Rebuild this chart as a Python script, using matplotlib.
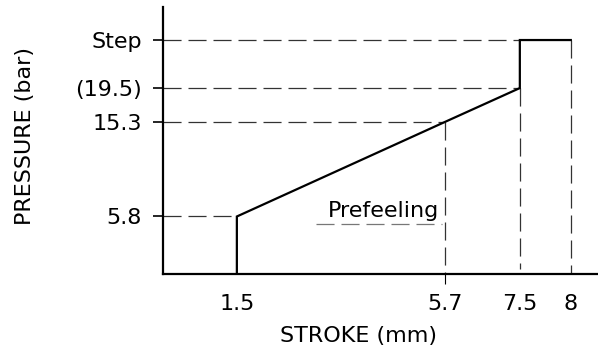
import matplotlib
matplotlib.use('Agg')
import matplotlib.pyplot as plt
import numpy as np

plt.rcParams['font.family'] = 'DejaVu Sans'
plt.rcParams['lines.scale_dashes'] = False

# stroke (mm) and pressure (bar) at the corners of the characteristic
stroke_start = 1.5
stroke_prefeel = 5.7
stroke_step = 7.5
stroke_end = 8.0
pressure_start = 5.8
pressure_prefeel = 15.3
pressure_knee = 19.5
pressure_step = 24.3

x_ticks = [stroke_start, stroke_prefeel, stroke_step, stroke_end]
x_labels = ['1.5', '5.7', '7.5', '8']
y_ticks = [pressure_start, pressure_prefeel, pressure_knee, pressure_step]
y_labels = ['5.8', '15.3', '(19.5)', 'Step']

# schematic axes: sections are drawn wider/narrower than to scale
x_in = [0, 5.7, 7.5, 8.0, 8.8]
x_out = [0, 5.7, 7.22, 8.25, 8.8]
y_in = [0, 15.3, 19.5, 27.6]
y_out = [0, 15.2, 18.6, 26.7]


def piecewise(src, dst):
    return (lambda v: np.interp(v, src, dst), lambda v: np.interp(v, dst, src))


fs = 16
fig = plt.figure(figsize=(5.98, 3.51), dpi=100)
ax = fig.add_axes([0.272, 0.219, 0.728, 0.761])
ax.set_xscale('function', functions=piecewise(x_in, x_out))
ax.set_yscale('function', functions=piecewise(y_in, y_out))

dash = (0, (13, 5))
dcol = '#333333'

# main curve
ax.plot([stroke_start, stroke_start, stroke_prefeel, stroke_step, stroke_step, stroke_end],
        [0, pressure_start, pressure_prefeel, pressure_knee, pressure_step, pressure_step],
        color='black', lw=1.6, solid_joinstyle='miter', zorder=3)

# guide lines
ax.plot([0, stroke_start], [pressure_start] * 2, color=dcol, lw=0.9, ls=dash)
ax.plot([0, stroke_prefeel], [pressure_prefeel] * 2, color=dcol, lw=0.9, ls=dash)
ax.plot([0, stroke_step], [pressure_knee] * 2, color=dcol, lw=0.9, ls=dash)
ax.plot([0, stroke_step], [pressure_step] * 2, color=dcol, lw=0.9, ls=dash)
ax.plot([stroke_prefeel] * 2, [pressure_prefeel, 0], color=dcol, lw=0.9, ls=dash)
ax.plot([stroke_step] * 2, [pressure_knee, 0.5], color=dcol, lw=0.9, ls=dash)
ax.plot([stroke_end] * 2, [pressure_step, 0], color=dcol, lw=0.9, ls=dash)

# prefeeling label with dashed underline
ax.annotate('Prefeeling', xy=(stroke_prefeel, 6.4), xytext=(-4, 0),
            textcoords='offset points', ha='right', va='center', fontsize=fs)
ax.plot([3.1, stroke_prefeel - 0.05], [5.0, 5.0], color='#777777', lw=0.9, ls=dash)

ax.set_xlim(0, 8.8)
ax.set_ylim(0, 27.6)
ax.set_xticks(x_ticks)
ax.set_xticklabels(x_labels, fontsize=fs)
ax.set_yticks(y_ticks)
ax.set_yticklabels(y_labels, fontsize=fs)
ax.tick_params(axis='y', length=7, width=1.2, pad=8)
ax.tick_params(axis='x', length=0, pad=14)
# only the prefeel stroke gets a tick mark below the axis
ax.xaxis.get_major_ticks()[1].tick1line.set_markersize(7)

for side in ['top', 'right']:
    ax.spines[side].set_visible(False)
ax.spines['left'].set_linewidth(1.6)
ax.spines['bottom'].set_linewidth(1.6)

ax.set_xlabel('STROKE (mm)', fontsize=fs, va='center')
ax.set_ylabel('PRESSURE (bar)', fontsize=fs, va='center')
ax.xaxis.set_label_coords(0.449, -0.232)
ax.yaxis.set_label_coords(-0.316, 0.517)

fig.savefig('out.png', dpi=100)
